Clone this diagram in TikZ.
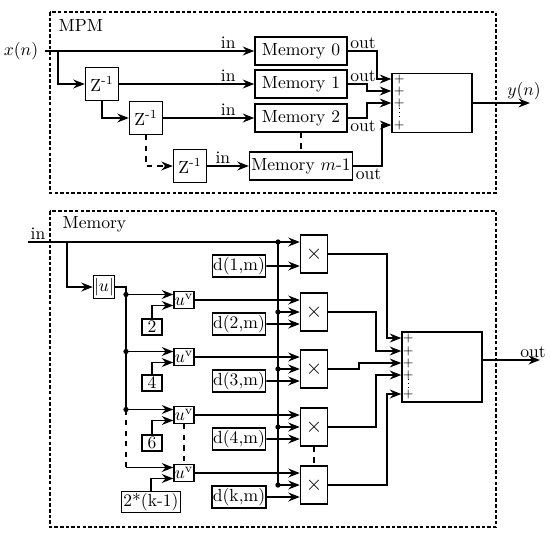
\documentclass[tikz,border=0pt]{standalone}
\usepackage{amsmath}
\usetikzlibrary{arrows.meta,positioning}

\begin{document}
\begin{tikzpicture}[x=0.02cm, y=-0.02cm, >={Stealth[length=6.5pt,width=5pt]},
  line width=1.1pt,
  blk/.style={draw, thick, inner sep=1pt},
  memblk/.style={blk, minimum width=1.84cm, minimum height=0.56cm},
  zblk/.style={blk, minimum size=0.66cm},
  sumblk/.style={blk, minimum width=1.6cm},
  mulblk/.style={blk, font=\large, minimum width=0.54cm, minimum height=0.76cm},
  powblk/.style={blk, minimum width=0.4cm, minimum height=0.34cm, inner sep=0pt},
  cstblk/.style={blk, minimum width=0.4cm, minimum height=0.32cm},
  dblk/.style={blk, minimum width=1cm, minimum height=0.44cm, inner sep=0.5pt},
  boxframe/.style={line width=1pt, dash pattern=on 2pt off 1.2pt},
  lbl/.style={inner sep=1pt},
  plus/.style={font=\scriptsize, inner sep=0pt}]
\useasboundingbox (0,0) rectangle (550,535);

% MPM
\draw[boxframe] (50,12) rectangle (496,193);
\node[lbl, anchor=west] (mpm) at (56,25) {MPM};
\node (xn) at (21,51) {$x(n)$};
\node[memblk] (mem0) at (301,51) {Memory 0};
\node[memblk] (mem1) at (301,84) {Memory 1};
\node[memblk] (mem2) at (301,118) {Memory 2};
\node[memblk] (memm) at (301,166) {Memory $m$-1};
\node[zblk] (z1) at (102,84) {Z\textsuperscript{-1}};
\node[zblk] (z2) at (146,118) {Z\textsuperscript{-1}};
\node[zblk] (z3) at (190,166) {Z\textsuperscript{-1}};
\node[sumblk, minimum height=1.18cm] (sum) at (432,103) {};
\coordinate (b0) at (58,51);
\coordinate (yn) at (530,103);

\draw[->] (xn.east) -- node[lbl, above, pos=1, xshift=-0.52cm]{in} (mem0.west);
\draw[->] (b0) |- (z1.west);
\draw[->] (z1.south) |- (z2.west);
\draw[->, dashed] (z2.south) |- (z3.west);
\draw[->] (z1.east) -- node[lbl, above, pos=1, xshift=-0.52cm]{in} (mem1.west);
\draw[->] (z2.east) -- node[lbl, above, pos=1, xshift=-0.52cm]{in} (mem2.west);
\draw[->] (z3.east) -- node[lbl, above, pos=1, xshift=-0.52cm]{in} (memm.west);
\draw[dashed] (mem2.south) -- (memm.north);

\draw[->] (mem0.east) -- ++(0.58cm,0) |- ([yshift=0.48cm]sum.west);
\draw[->] (mem1.east) -- ++(0.38cm,0) |- ([yshift=0.24cm]sum.west);
\draw[->] (mem2.east) -- ++(0.38cm,0) |- (sum.west);
\draw[->] (memm.east) -- ++(0.58cm,0) |- ([yshift=-0.44cm]sum.west);
\node[lbl, anchor=south west] at (mem0.east) {out};
\node[lbl, anchor=south west] at (mem1.east) {out};
\node[lbl, anchor=north west] at (mem2.east) {out};
\node[lbl, anchor=north west] at (memm.east) {out};

\node[plus] at ([xshift=0.16cm, yshift=0.48cm]sum.west) {$+$};
\node[plus] at ([xshift=0.16cm, yshift=0.24cm]sum.west) {$+$};
\node[plus] at ([xshift=0.16cm]sum.west) {$+$};
\node[plus] at ([xshift=0.16cm, yshift=-0.44cm]sum.west) {$+$};
\draw[dotted, thin] ([xshift=0.16cm, yshift=-0.1cm]sum.west) -- ([xshift=0.16cm, yshift=-0.34cm]sum.west);
\draw[->] (sum.east) -- (yn) node[lbl, above, xshift=-0.12cm]{$y(n)$};

% Memory
\draw[boxframe] (50,211) rectangle (496,527);
\node[lbl, anchor=west] (memlbl) at (60,224) {Memory};
\coordinate (inp) at (28,242);
\node[lbl, above right] at (inp) {in};
\coordinate (j1) at (278,242);
\coordinate (b1) at (67,242);

\node[mulblk] (m1) at (314,254) {$\times$};
\node[mulblk] (m2) at (314,312) {$\times$};
\node[mulblk] (m3) at (314,369) {$\times$};
\node[mulblk] (m4) at (314,427) {$\times$};
\node[mulblk] (m5) at (314,485) {$\times$};
\coordinate (j2) at (j1 |- m2.west);
\coordinate (j3) at (j1 |- m3.west);
\coordinate (j4) at (j1 |- m4.west);
\coordinate (j5) at (j1 |- m5.west);

\node[powblk, minimum width=0.42cm, minimum height=0.46cm] (abs) at (104,287) {$|u|$};
\node[powblk] (p1) at (184,300) {$u^{\mathrm{v}}$};
\node[powblk] (p2) at (184,357) {$u^{\mathrm{v}}$};
\node[powblk] (p3) at (184,415) {$u^{\mathrm{v}}$};
\node[powblk] (p4) at (184,473) {$u^{\mathrm{v}}$};
\coordinate (a1) at (126,294.5);
\coordinate (a2) at (126,351.5);
\coordinate (a3) at (126,409.5);
\coordinate (a4) at (126,467.5);

\node[cstblk] (c1) at (152,327) {2};
\node[cstblk] (c2) at (152,383) {4};
\node[cstblk] (c3) at (152,443) {6};
\node[cstblk] (c4) at (151,502) {2*(k-1)};

\node[dblk] (d1) at (239,266) {d(1,m)};
\node[dblk] (d2) at (239,324) {d(2,m)};
\node[dblk] (d3) at (239,381) {d(3,m)};
\node[dblk] (d4) at (239,439) {d(4,m)};
\node[dblk] (dk) at (239,497) {d(k,m)};

\node[sumblk, minimum height=1.4cm] (sum2) at (442,367) {};
\coordinate (outp) at (540,360);

\draw (inp) -- (j1);
\draw[->] (j1) -- ([yshift=0.24cm]m1.west);
\draw (j1) -- (j5);
\draw[->] (j2) -- (m2.west);
\draw[->] (j3) -- (m3.west);
\draw[->] (j4) -- (m4.west);
\draw[->] (j5) -- (m5.west);
\fill (j1) circle (1.5pt) (j2) circle (1.5pt) (j3) circle (1.5pt) (j4) circle (1.5pt) (j5) circle (1.5pt);

\draw[->] (b1) |- (abs.west);
\draw (abs.east) -| (a3);
\draw[dashed] (a3) -- (a4);
\draw[->] (a1) -- (a1 -| p1.west);
\draw[->] (a2) -- (a2 -| p2.west);
\draw[->] (a3) -- (a3 -| p3.west);
\draw[->] (a4) -- (a4 -| p4.west);
\fill (a1) circle (1.5pt) (a2) circle (1.5pt) (a3) circle (1.5pt);

\draw[->] (c1.north) |- ([yshift=-0.11cm]p1.west);
\draw[->] (c2.north) |- ([yshift=-0.11cm]p2.west);
\draw[->] (c3.north) |- ([yshift=-0.11cm]p3.west);
\draw[->] (c4.north) |- ([yshift=-0.11cm]p4.west);
\draw[dashed] (p3.south) -- (p4.north);

\draw[->] (p1.east) -- ([yshift=0.24cm]m2.west);
\draw[->] (p2.east) -- ([yshift=0.24cm]m3.west);
\draw[->] (p3.east) -- ([yshift=0.24cm]m4.west);
\draw[->] (p4.east) -- ([yshift=0.24cm]m5.west);

\draw[->] (d1.east) -- ([yshift=-0.24cm]m1.west);
\draw[->] (d2.east) -- ([yshift=-0.24cm]m2.west);
\draw[->] (d3.east) -- ([yshift=-0.24cm]m3.west);
\draw[->] (d4.east) -- ([yshift=-0.24cm]m4.west);
\draw[->] (dk.east) -- ([yshift=-0.24cm]m5.west);
\draw[dashed] (m4.south) -- (m5.north);

\draw[->] (m1.east) -- ++(1.18cm,0) |- ([yshift=0.58cm]sum2.west);
\draw[->] (m2.east) -- ++(0.96cm,0) |- ([yshift=0.32cm]sum2.west);
\draw[->] (m3.east) -- ++(0.62cm,0) |- ([yshift=0.08cm]sum2.west);
\draw[->] (m4.east) -- ++(0.96cm,0) |- ([yshift=-0.16cm]sum2.west);
\draw[->] (m5.east) -- ++(1.18cm,0) |- ([yshift=-0.54cm]sum2.west);

\node[plus] at ([xshift=0.14cm, yshift=0.58cm]sum2.west) {$+$};
\node[plus] at ([xshift=0.14cm, yshift=0.32cm]sum2.west) {$+$};
\node[plus] at ([xshift=0.14cm, yshift=0.08cm]sum2.west) {$+$};
\node[plus] at ([xshift=0.14cm, yshift=-0.16cm]sum2.west) {$+$};
\node[plus] at ([xshift=0.14cm, yshift=-0.54cm]sum2.west) {$+$};
\draw[dotted, thin] ([xshift=0.14cm, yshift=-0.24cm]sum2.west) -- ([xshift=0.14cm, yshift=-0.46cm]sum2.west);
\draw[->] ([yshift=0.14cm]sum2.east) -- (outp) node[lbl, above, xshift=-0.14cm]{out};
\end{tikzpicture}
\end{document}
